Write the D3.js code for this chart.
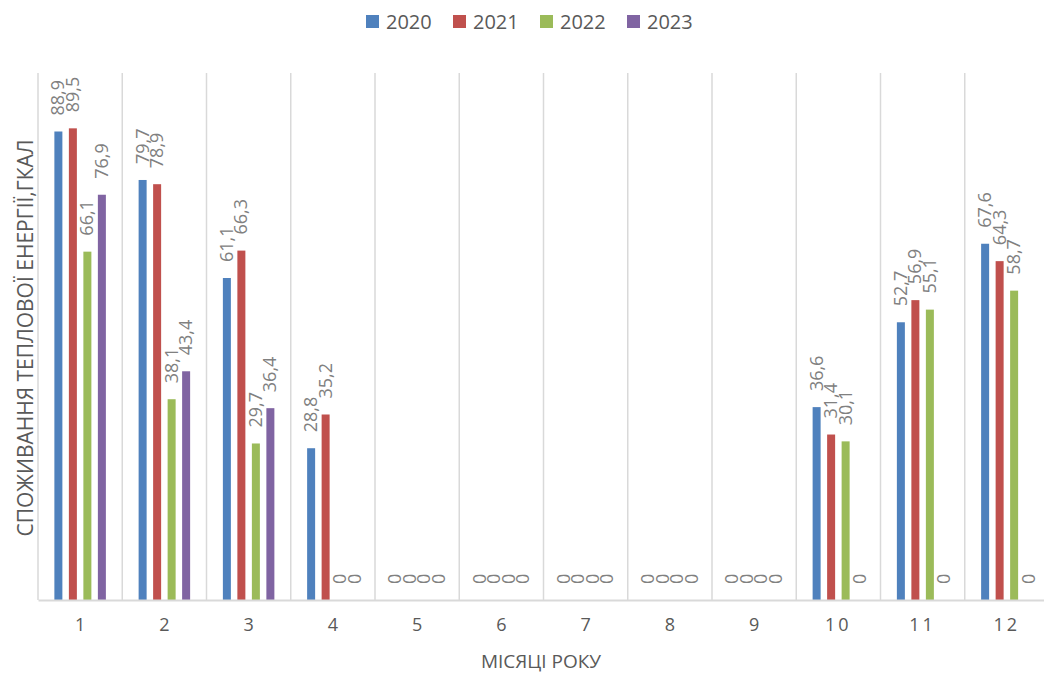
<!DOCTYPE html>
<html><head><meta charset="utf-8">
<script src="https://cdn.jsdelivr.net/npm/d3@7/dist/d3.min.js"></script>
<style>body{margin:0;background:#fff;}svg{display:block;font-family:"Open Sans",sans-serif;}</style>
</head><body>
<svg id="c" width="1044" height="674"></svg>
<script>
const months = ["1","2","3","4","5","6","7","8","9","10","11","12"];
const seriesNames = ["2020","2021","2022","2023"];
const colors = ["#4f81bd","#c0504d","#9bbb59","#8064a2"];
const v2020 = [88.9,79.7,61.1,28.8,0,0,0,0,0,36.6,52.7,67.6];
const v2021 = [89.5,78.9,66.3,35.2,0,0,0,0,0,31.4,56.9,64.3];
const v2022 = [66.1,38.1,29.7,0,0,0,0,0,0,30.1,55.1,58.7];
const v2023 = [76.9,43.4,36.4,0,0,0,0,0,0,0,0,0];
const yTitle = "СПОЖИВАННЯ ТЕПЛОВОЇ ЕНЕРГІЇ,ГКАЛ";
const xTitle = "МІСЯЦІ РОКУ";
const allVals = [v2020,v2021,v2022,v2023];

const svg = d3.select("#c");
const pLeft = 38, pRight = 1049, pBase = 600, pTop = 73;
const x0 = d3.scaleBand().domain(months).range([pLeft,pRight]).padding(0);
const cw = x0.bandwidth();
const x1 = d3.scaleBand().domain(seriesNames).range([cw/2-29, cw/2+29]);
const y = d3.scaleLinear().domain([0,100]).range([pBase, pTop]);
const barW = 8;

// gridlines at category boundaries
const bounds = months.map(m => x0(m)).concat([pRight]);
svg.append("g").selectAll("line").data(bounds).join("line")
  .attr("x1",d=>d).attr("x2",d=>d).attr("y1",pTop).attr("y2",pBase)
  .attr("stroke","#d9d9d9").attr("stroke-width",1.5);

// bars
seriesNames.forEach((s,si)=>{
  const g = svg.append("g");
  const data = months.map((m,i)=>({m, v: allVals[si][i]}));
  g.selectAll("rect").data(data.filter(d=>d.v>0)).join("rect")
    .attr("x", d=> x0(d.m)+x1(s)+x1.bandwidth()/2-barW/2)
    .attr("width", barW)
    .attr("y", d=> y(d.v))
    .attr("height", d=> pBase - y(d.v))
    .attr("fill", colors[si]);
  g.selectAll("text").data(data).join("text")
    .attr("transform", d=> `translate(${x0(d.m)+x1(s)+x1.bandwidth()/2+6},${y(d.v)-16}) rotate(-90)`)
    .attr("font-size", 18).attr("fill","#808080")
    .text(d=> d3.format(".1f")(d.v).replace(".",",").replace(/,0$/,""));
});

// baseline axis
const xAxis = d3.axisBottom(x0).tickSize(0).tickPadding(18);
const ax = svg.append("g").attr("transform",`translate(0,${pBase})`).call(xAxis);
ax.select(".domain").attr("stroke","#d9d9d9").attr("stroke-width",2);
ax.selectAll("text").attr("font-size",18).attr("fill","#595959")
  .attr("font-family","'Open Sans',sans-serif").attr("letter-spacing", d=> d.length>1 ? 3 : 0);

// axis titles
svg.append("text").attr("x",541).attr("y",668).attr("text-anchor","middle")
  .attr("font-size",19).attr("fill","#595959").text(xTitle);
svg.append("text").attr("transform","translate(33,338) rotate(-90)").attr("text-anchor","middle")
  .attr("font-size",21).attr("fill","#595959").text(yTitle);

// legend
const lg = svg.append("g");
seriesNames.forEach((s,i)=>{
  const lx = 366 + i*87;
  lg.append("rect").attr("x",lx).attr("y",15).attr("width",13).attr("height",13).attr("fill",colors[i]);
  lg.append("text").attr("x",lx+20).attr("y",29).attr("font-size",20).attr("fill","#595959").text(s);
});
</script>
</body></html>
